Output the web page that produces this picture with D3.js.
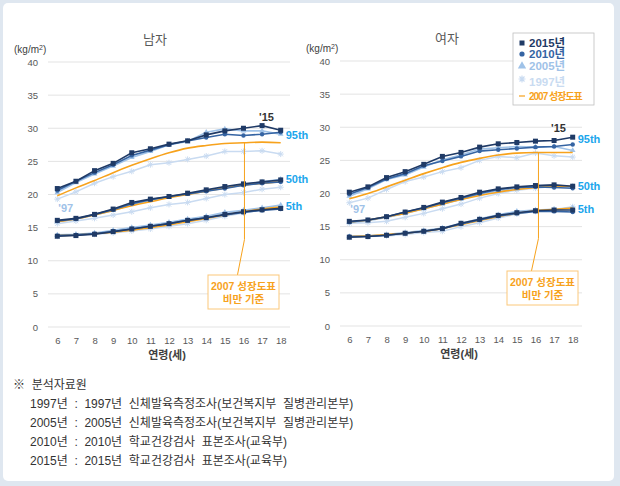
<!DOCTYPE html>
<html>
<head>
<meta charset="utf-8">
<script src="https://cdn.jsdelivr.net/npm/d3@7"></script>
<style>
  body { margin: 0; background: #fff; }
  svg { display: block; }
  text { font-family: "Liberation Sans", "Noto Sans CJK KR", sans-serif; }
</style>
</head>
<body>
<svg id="chart" width="620" height="486"></svg>
<script>
// data (BMI percentiles by age)
var ages = [6, 7, 8, 9, 10, 11, 12, 13, 14, 15, 16, 17, 18];
var yTicks = [0, 5, 10, 15, 20, 25, 30, 35, 40];

// 남자
var male95_2015 = [20.9, 22.0, 23.6, 24.7, 26.3, 26.9, 27.6, 28.1, 29.0, 29.6, 30.0, 30.4, 29.7];
var male95_2010 = [20.6, 22.0, 23.3, 24.5, 25.9, 26.7, 27.5, 28.1, 28.6, 29.1, 28.9, 29.1, 29.4];
var male95_2005 = [20.3, 21.8, 23.1, 24.3, 25.6, 26.5, 27.5, 28.0, 29.4, 29.9, 29.6, 29.6, 29.1];
var male95_1997 = [19.3, 20.4, 21.7, 22.7, 23.5, 24.5, 24.8, 25.3, 25.8, 26.5, 26.5, 26.6, 26.1];
var male95_2007 = [19.8, 21.0, 22.1, 23.3, 24.4, 25.4, 26.3, 27.0, 27.4, 27.7, 27.8, 27.9, 27.8];

var male50_2015 = [16.1, 16.4, 17.0, 17.8, 18.8, 19.3, 19.7, 20.2, 20.7, 21.2, 21.6, 21.9, 22.2];
var male50_2010 = [16.0, 16.3, 17.0, 17.7, 18.6, 19.2, 19.7, 20.1, 20.5, 20.9, 21.4, 21.7, 21.9];
var male50_2005 = [15.9, 16.3, 16.9, 17.6, 18.5, 19.1, 19.6, 20.1, 20.6, 21.1, 21.5, 21.9, 22.3];
var male50_1997 = [15.6, 16.0, 16.4, 16.9, 17.4, 18.0, 18.5, 18.8, 19.4, 20.0, 20.3, 20.8, 21.1];
var male50_2007 = [15.9, 16.3, 16.9, 17.6, 18.3, 18.9, 19.5, 20.0, 20.5, 21.0, 21.4, 21.7, 21.9];

var male5_2015 = [13.7, 13.8, 14.0, 14.4, 14.8, 15.2, 15.6, 16.1, 16.5, 17.0, 17.4, 17.7, 17.9];
var male5_2010 = [13.8, 13.9, 14.1, 14.4, 14.8, 15.2, 15.6, 16.1, 16.5, 16.9, 17.3, 17.6, 17.8];
var male5_2005 = [13.9, 14.0, 14.2, 14.6, 15.0, 15.4, 15.8, 16.3, 16.7, 17.3, 17.6, 18.0, 18.4];
var male5_1997 = [13.7, 13.9, 14.0, 14.2, 14.5, 14.8, 15.2, 15.6, 16.1, 16.7, 17.2, 17.7, 18.1];
var male5_2007 = [13.8, 13.9, 14.1, 14.3, 14.6, 15.0, 15.4, 15.9, 16.4, 16.9, 17.4, 17.8, 18.1];

// 여자
var female95_2015 = [20.2, 21.0, 22.4, 23.3, 24.4, 25.6, 26.2, 27.0, 27.5, 27.7, 27.9, 28.0, 28.5];
var female95_2010 = [19.9, 20.9, 22.2, 23.0, 24.2, 24.9, 25.6, 26.4, 26.6, 26.8, 27.0, 27.1, 27.4];
var female95_2005 = [19.6, 20.7, 22.1, 22.8, 24.0, 25.1, 25.8, 26.7, 26.9, 27.1, 27.0, 27.1, 26.5];
var female95_1997 = [18.6, 19.3, 20.6, 21.8, 22.5, 23.3, 23.9, 25.0, 25.6, 25.4, 26.1, 25.7, 25.5];
var female95_2007 = [19.2, 20.0, 21.0, 22.0, 23.0, 23.9, 24.7, 25.3, 25.8, 26.1, 26.2, 26.2, 26.2];

var female50_2015 = [15.8, 16.0, 16.5, 17.2, 17.9, 18.7, 19.4, 20.2, 20.7, 21.0, 21.2, 21.3, 21.1];
var female50_2010 = [15.7, 16.0, 16.5, 17.2, 17.8, 18.6, 19.3, 20.0, 20.6, 20.9, 21.0, 20.9, 20.8];
var female50_2005 = [15.6, 15.9, 16.4, 17.0, 17.7, 18.4, 19.1, 19.9, 20.4, 20.7, 21.1, 21.2, 21.0];
var female50_1997 = [15.5, 15.6, 15.8, 16.4, 17.0, 17.7, 18.4, 19.3, 20.0, 20.5, 20.8, 21.1, 21.1];
var female50_2007 = [15.7, 16.0, 16.5, 17.0, 17.7, 18.4, 19.1, 19.7, 20.2, 20.6, 20.9, 21.1, 21.1];

var female5_2015 = [13.4, 13.5, 13.7, 14.0, 14.3, 14.7, 15.5, 16.1, 16.7, 17.1, 17.4, 17.5, 17.5];
var female5_2010 = [13.5, 13.5, 13.7, 14.0, 14.3, 14.7, 15.4, 16.0, 16.6, 17.0, 17.3, 17.3, 17.2];
var female5_2005 = [13.5, 13.6, 13.8, 14.1, 14.4, 14.8, 15.5, 16.2, 16.8, 17.3, 17.5, 17.6, 17.8];
var female5_1997 = [13.4, 13.5, 13.6, 13.8, 14.1, 14.3, 15.0, 15.6, 16.3, 16.9, 17.3, 17.6, 18.0];
var female5_2007 = [13.5, 13.6, 13.8, 14.0, 14.3, 14.7, 15.3, 15.9, 16.5, 17.0, 17.4, 17.6, 17.8];

var legendLabels = ["2015년", "2010년", "2005년", "1997년", "2007 성장도표"];
var notes = [
    "1997년  :  1997년  신체발육측정조사(보건복지부  질병관리본부)",
    "2005년  :  2005년  신체발육측정조사(보건복지부  질병관리본부)",
    "2010년  :  2010년  학교건강검사  표본조사(교육부)",
    "2015년  :  2015년  학교건강검사  표본조사(교육부)"
];

// colours
var c2015 = "#1f3a66", c2010 = "#3564a3", c2005 = "#9fc2e8", c1997 = "#c9dbf1", c2007 = "#f7a21c";
var labelBlue = "#1ba6ec";

var svg = d3.select("#chart");

// frame
svg.append("rect").attr("width", 620).attr("height", 486).attr("fill", "#dfe7f0");
svg.append("rect").attr("x", 3).attr("y", 3).attr("width", 611).attr("height", 478)
    .attr("rx", 5).attr("fill", "#fff");

function drawPanel(opt) {
    var g = svg.append("g");
    var x = d3.scalePoint().domain(ages).range([opt.left, opt.right]).padding(0.5);
    var y = d3.scaleLinear().domain([0, 40]).range([opt.bottom, opt.top]);

    // grid
    g.selectAll(".grid").data(yTicks).enter().append("line")
        .attr("x1", opt.left).attr("x2", opt.right)
        .attr("y1", function (d) { return y(d); }).attr("y2", function (d) { return y(d); })
        .attr("stroke", "#e3e3e3").attr("stroke-width", 1);

    // y axis
    var ya = g.append("g").attr("transform", "translate(" + (opt.left - 10) + ",0)")
        .call(d3.axisLeft(y).tickValues(yTicks).tickSize(0).tickPadding(0));
    ya.select(".domain").remove();
    ya.selectAll("text").attr("font-size", 9.5).attr("fill", "#595959")
        .style("font-family", "'Liberation Sans', sans-serif");

    // x axis
    var xa = g.append("g").attr("transform", "translate(0," + (opt.bottom + 10) + ")")
        .call(d3.axisBottom(x).tickSize(0).tickPadding(0));
    xa.select(".domain").remove();
    xa.selectAll("text").attr("font-size", 9.5).attr("fill", "#595959")
        .style("font-family", "'Liberation Sans', sans-serif");

    g.append("text").attr("x", (opt.left + opt.right) / 2 - 2).attr("y", opt.bottom + 32)
        .attr("text-anchor", "middle").attr("font-size", 11).attr("font-weight", "bold")
        .attr("fill", "#404040").text("연령(세)");

    g.append("text").attr("x", (opt.left + opt.right) / 2 - 14).attr("y", opt.top - 18)
        .attr("text-anchor", "middle").attr("font-size", 13).attr("fill", "#595959")
        .text(opt.title);

    var unit = g.append("text").attr("x", opt.left - 34).attr("y", opt.top - 9)
        .attr("font-size", 10).attr("fill", "#404040");
    unit.append("tspan").text("(kg/m");
    unit.append("tspan").attr("font-size", 7).attr("dy", -3).text("2");
    unit.append("tspan").attr("dy", 3).text(")");

    var line = d3.line().x(function (d, i) { return x(ages[i]); }).y(function (d) { return y(d); });

    opt.groups.forEach(function (grp) {
        // 1997 asterisks
        g.append("path").datum(grp[3]).attr("d", line).attr("fill", "none")
            .attr("stroke", c1997).attr("stroke-width", 1.5);
        g.selectAll(null).data(grp[3]).enter().append("path")
            .attr("transform", function (d, i) { return "translate(" + x(ages[i]) + "," + y(d) + ")"; })
            .attr("d", "M-3,0H3M0,-3V3M-2.2,-2.2L2.2,2.2M-2.2,2.2L2.2,-2.2")
            .attr("stroke", c1997).attr("stroke-width", 1).attr("fill", "none");
        // 2005 triangles
        g.append("path").datum(grp[2]).attr("d", line).attr("fill", "none")
            .attr("stroke", c2005).attr("stroke-width", 1.6);
        g.selectAll(null).data(grp[2]).enter().append("path")
            .attr("transform", function (d, i) { return "translate(" + x(ages[i]) + "," + y(d) + ")"; })
            .attr("d", d3.symbol().type(d3.symbolTriangle).size(14))
            .attr("fill", c2005);
        // 2007 orange
        g.append("path").datum(grp[4]).attr("d", line.curve(d3.curveMonotoneX)).attr("fill", "none")
            .attr("stroke", c2007).attr("stroke-width", 1.6);
        line.curve(d3.curveLinear);
        // 2010 circles
        g.append("path").datum(grp[1]).attr("d", line).attr("fill", "none")
            .attr("stroke", c2010).attr("stroke-width", 1.6);
        g.selectAll(null).data(grp[1]).enter().append("circle")
            .attr("cx", function (d, i) { return x(ages[i]); })
            .attr("cy", function (d) { return y(d); })
            .attr("r", 2.2).attr("fill", c2010);
        // 2015 squares
        g.append("path").datum(grp[0]).attr("d", line).attr("fill", "none")
            .attr("stroke", c2015).attr("stroke-width", 1.6);
        g.selectAll(null).data(grp[0]).enter().append("rect")
            .attr("x", function (d, i) { return x(ages[i]) - 2.5; })
            .attr("y", function (d) { return y(d) - 2.5; })
            .attr("width", 5).attr("height", 5).attr("fill", c2015);
    });

    // percentile labels
    var xl = x(18) + 5;
    opt.pLabels.forEach(function (p) {
        g.append("text").attr("x", xl).attr("y", y(p.v) + 4)
            .attr("font-size", 11).attr("font-weight", "bold").attr("fill", labelBlue)
            .text(p.t);
    });
    g.append("text").attr("x", x(17) - 3).attr("y", y(opt.tag15) - 2)
        .attr("font-size", 11).attr("font-weight", "bold").attr("fill", "#333").text("'15");
    g.append("text").attr("x", x(6) + 1).attr("y", y(opt.tag97) + 4)
        .attr("font-size", 11).attr("font-weight", "bold").attr("fill", c2005).text("'97");

    // callout
    var cx = x(16) + opt.lineDx;
    g.append("path")
        .attr("d", "M" + cx + "," + y(opt.orange16) + "V" + y(opt.bendV) + "L" + (cx - 7) + "," + opt.boxY)
        .attr("fill", "none").attr("stroke", c2007).attr("stroke-width", 1);
    g.append("rect").attr("x", opt.boxX).attr("y", opt.boxY).attr("width", 71).attr("height", 34)
        .attr("fill", "#fff").attr("stroke", "#fbc87a").attr("stroke-width", 1);
    g.append("text").attr("x", opt.boxX + 35.5).attr("y", opt.boxY + 15).attr("text-anchor", "middle")
        .attr("font-size", 10.5).attr("font-weight", "bold").attr("fill", c2007).text("2007 성장도표");
    g.append("text").attr("x", opt.boxX + 35.5).attr("y", opt.boxY + 28).attr("text-anchor", "middle")
        .attr("font-size", 10.5).attr("font-weight", "bold").attr("fill", c2007).text("비만 기준");
}

drawPanel({
    title: "남자", left: 48, right: 290, top: 62, bottom: 327,
    groups: [
        [male95_2015, male95_2010, male95_2005, male95_1997, male95_2007],
        [male50_2015, male50_2010, male50_2005, male50_1997, male50_2007],
        [male5_2015, male5_2010, male5_2005, male5_1997, male5_2007]
    ],
    pLabels: [{ t: "95th", v: 29.0 }, { t: "50th", v: 22.4 }, { t: "5th", v: 18.2 }],
    tag15: 30.8, tag97: 18.0,
    orange16: male95_2007[10], bendV: 13.2, lineDx: 1, boxX: 208, boxY: 275
});

drawPanel({
    title: "여자", left: 340, right: 582, top: 61, bottom: 326,
    groups: [
        [female95_2015, female95_2010, female95_2005, female95_1997, female95_2007],
        [female50_2015, female50_2010, female50_2005, female50_1997, female50_2007],
        [female5_2015, female5_2010, female5_2005, female5_1997, female5_2007]
    ],
    pLabels: [{ t: "95th", v: 28.2 }, { t: "50th", v: 21.2 }, { t: "5th", v: 17.6 }],
    tag15: 29.0, tag97: 17.6,
    orange16: female95_2007[10], bendV: 13.2, lineDx: 3, boxX: 507, boxY: 271
});

// legend
var lg = svg.append("g");
lg.append("rect").attr("x", 513).attr("y", 33).attr("width", 81).attr("height", 72)
    .attr("fill", "#fff").attr("stroke", "#bfbfbf").attr("stroke-width", 0.8);
var legendY = [43, 54, 66, 82, 96];
var legendColors = [c2015, c2010, c2005, c1997, c2007];
legendLabels.forEach(function (t, i) {
    var yy = legendY[i], mx = 522;
    if (i === 0) lg.append("rect").attr("x", mx - 2.5).attr("y", yy - 2.5).attr("width", 5).attr("height", 5).attr("fill", c2015);
    if (i === 1) lg.append("circle").attr("cx", mx).attr("cy", yy).attr("r", 2.6).attr("fill", c2010);
    if (i === 2) lg.append("path").attr("transform", "translate(" + mx + "," + yy + ")")
        .attr("d", d3.symbol().type(d3.symbolTriangle).size(30)).attr("fill", c2005);
    if (i === 3) lg.append("path").attr("transform", "translate(" + mx + "," + (yy - 3) + ")")
        .attr("d", "M-3.5,0H3.5M0,-3.5V3.5M-2.5,-2.5L2.5,2.5M-2.5,2.5L2.5,-2.5")
        .attr("stroke", c1997).attr("stroke-width", 1.2);
    if (i === 4) lg.append("line").attr("x1", mx - 3).attr("x2", mx + 3).attr("y1", yy).attr("y2", yy)
        .attr("stroke", c2007).attr("stroke-width", 1.2);
    lg.append("text").attr("x", 529).attr("y", yy + 4)
        .attr("font-size", i === 4 ? 10 : 11.5).attr("font-weight", "bold")
        .attr("letter-spacing", i === 4 ? -1 : 0)
        .attr("fill", legendColors[i]).text(t);
});

// notes
svg.append("text").attr("x", 13).attr("y", 389).attr("font-size", 12).attr("fill", "#333")
    .style("white-space", "pre").text("※  분석자료원");
svg.selectAll(".note").data(notes).enter().append("text")
    .attr("x", 30).attr("y", function (d, i) { return 408 + i * 19; })
    .attr("font-size", 12).attr("fill", "#333")
    .style("white-space", "pre")
    .text(function (d) { return d; });
</script>
</body>
</html>
